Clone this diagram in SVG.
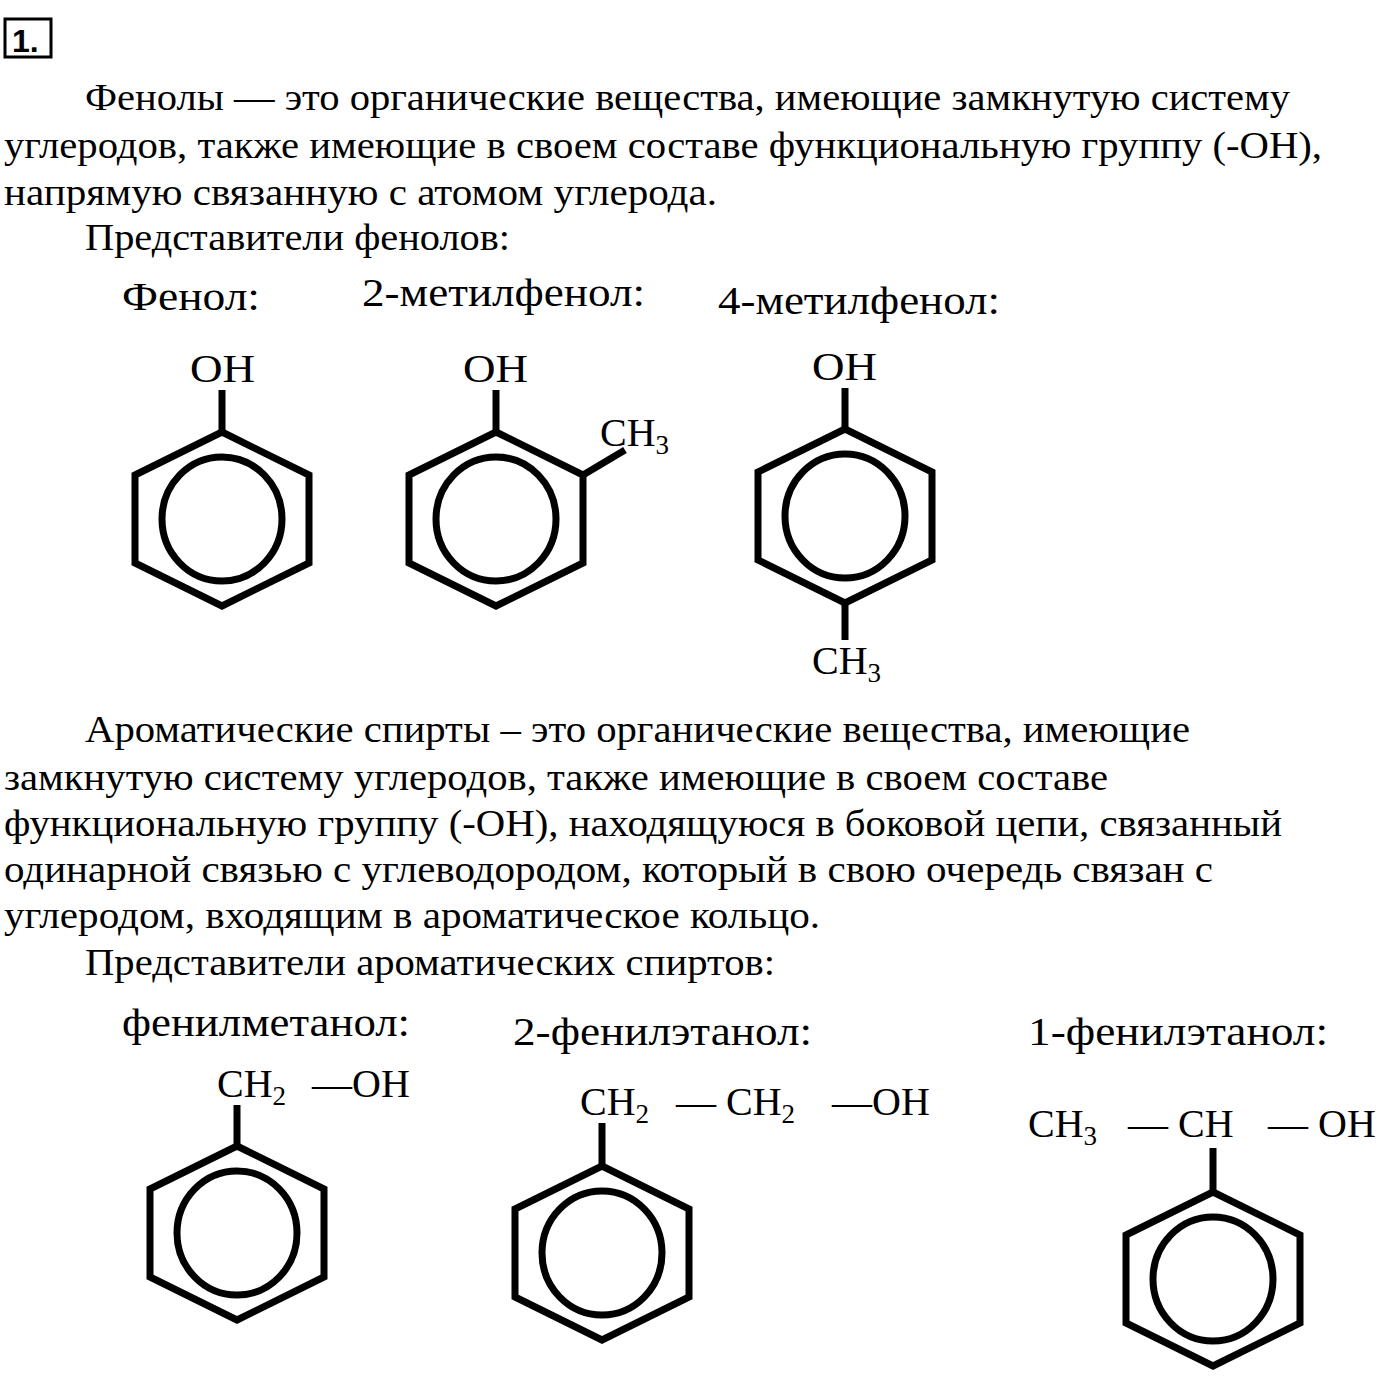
<svg xmlns="http://www.w3.org/2000/svg" xmlns:xlink="http://www.w3.org/1999/xlink" width="1400" height="1376" viewBox="0 0 1400 1376">
<style>
.t{font-family:'Liberation Serif','Times New Roman',Tinos,serif;font-size:37px;fill:#000}
.c{font-family:'Liberation Serif','Times New Roman',Tinos,serif;font-size:40px;fill:#000}
.s{font-size:27px}
.b{stroke:#000;stroke-width:7;fill:none}
</style>
<defs>
<g id="ring"><polygon class="b" points="0,-87 87,-44 87,44 0,87 -87,44 -87,-44"/><ellipse class="b" cx="0" cy="0" rx="60" ry="62"/></g>
</defs>
<rect width="1400" height="1376" fill="#fff"/>
<rect x="5" y="19" width="46" height="38" fill="none" stroke="#000" stroke-width="3"/>
<text x="12" y="52" style="font-family:'Liberation Sans',Arial,sans-serif;font-size:32px;font-weight:bold">1.</text>
<g id="text1">
<text class="t" x="85" y="110" textLength="1205" lengthAdjust="spacingAndGlyphs">Фенолы — это органические вещества, имеющие замкнутую систему</text>
<text class="t" x="4" y="158" textLength="1318" lengthAdjust="spacingAndGlyphs">углеродов, также имеющие в своем составе функциональную группу (-OH),</text>
<text class="t" x="4" y="205" textLength="713" lengthAdjust="spacingAndGlyphs">напрямую связанную с атомом углерода.</text>
<text class="t" x="85" y="250" textLength="425" lengthAdjust="spacingAndGlyphs">Представители фенолов:</text>
</g>
<g id="phenol">
<text class="c" x="122" y="310" textLength="138" lengthAdjust="spacingAndGlyphs">Фенол:</text>
<text class="c" x="190" y="382" textLength="65" lengthAdjust="spacingAndGlyphs">OH</text>
<line class="b" x1="222" y1="390" x2="222" y2="432"/>
<use xlink:href="#ring" x="222" y="519"/>
</g>
<g id="methylphenol2">
<text class="c" x="362" y="306" textLength="283" lengthAdjust="spacingAndGlyphs">2-метилфенол:</text>
<text class="c" x="463" y="382" textLength="65" lengthAdjust="spacingAndGlyphs">OH</text>
<line class="b" x1="496" y1="390" x2="496" y2="432"/>
<use xlink:href="#ring" x="496" y="519"/>
<line class="b" x1="583" y1="475" x2="625" y2="450"/>
<text class="c" x="600" y="446">CH<tspan class="s" dy="8">3</tspan></text>
</g>
<g id="methylphenol4">
<text class="c" x="718" y="314" textLength="282" lengthAdjust="spacingAndGlyphs">4-метилфенол:</text>
<text class="c" x="812" y="380" textLength="65" lengthAdjust="spacingAndGlyphs">OH</text>
<line class="b" x1="845" y1="388" x2="845" y2="430"/>
<use xlink:href="#ring" x="845" y="516"/>
<line class="b" x1="845" y1="603" x2="845" y2="640"/>
<text class="c" x="812" y="674">CH<tspan class="s" dy="8">3</tspan></text>
</g>
<g id="text2">
<text class="t" x="85" y="742" textLength="1105" lengthAdjust="spacingAndGlyphs">Ароматические спирты – это органические вещества, имеющие</text>
<text class="t" x="4" y="790" textLength="1104" lengthAdjust="spacingAndGlyphs">замкнутую систему углеродов, также имеющие в своем составе</text>
<text class="t" x="4" y="836" textLength="1278" lengthAdjust="spacingAndGlyphs">функциональную группу (-OH), находящуюся в боковой цепи, связанный</text>
<text class="t" x="4" y="882" textLength="1209" lengthAdjust="spacingAndGlyphs">одинарной связью с углеводородом, который в свою очередь связан с</text>
<text class="t" x="4" y="928" textLength="816" lengthAdjust="spacingAndGlyphs">углеродом, входящим в ароматическое кольцо.</text>
<text class="t" x="85" y="975" textLength="690" lengthAdjust="spacingAndGlyphs">Представители ароматических спиртов:</text>
</g>
<g id="phenylmethanol">
<text class="c" x="122" y="1036" textLength="288" lengthAdjust="spacingAndGlyphs">фенилметанол:</text>
<text class="c" x="217" y="1097">CH<tspan class="s" dy="8">2</tspan><tspan dy="-8" x="312">—OH</tspan></text>
<line class="b" x1="237" y1="1105" x2="237" y2="1146"/>
<use xlink:href="#ring" x="237" y="1233"/>
</g>
<g id="phenylethanol2">
<text class="c" x="513" y="1045" textLength="299" lengthAdjust="spacingAndGlyphs">2-фенилэтанол:</text>
<text class="c" x="580" y="1115">CH<tspan class="s" dy="8">2</tspan><tspan dy="-8" x="676">— CH</tspan><tspan class="s" dy="8">2</tspan><tspan dy="-8" x="832">—OH</tspan></text>
<line class="b" x1="602" y1="1123" x2="602" y2="1166"/>
<use xlink:href="#ring" x="602" y="1253"/>
</g>
<g id="phenylethanol1">
<text class="c" x="1028" y="1045" textLength="300" lengthAdjust="spacingAndGlyphs">1-фенилэтанол:</text>
<text class="c" x="1028" y="1137">CH<tspan class="s" dy="8">3</tspan><tspan dy="-8" x="1128">— CH</tspan><tspan x="1268">— OH</tspan></text>
<line class="b" x1="1213" y1="1148" x2="1213" y2="1192"/>
<use xlink:href="#ring" x="1213" y="1279"/>
</g>
</svg>
